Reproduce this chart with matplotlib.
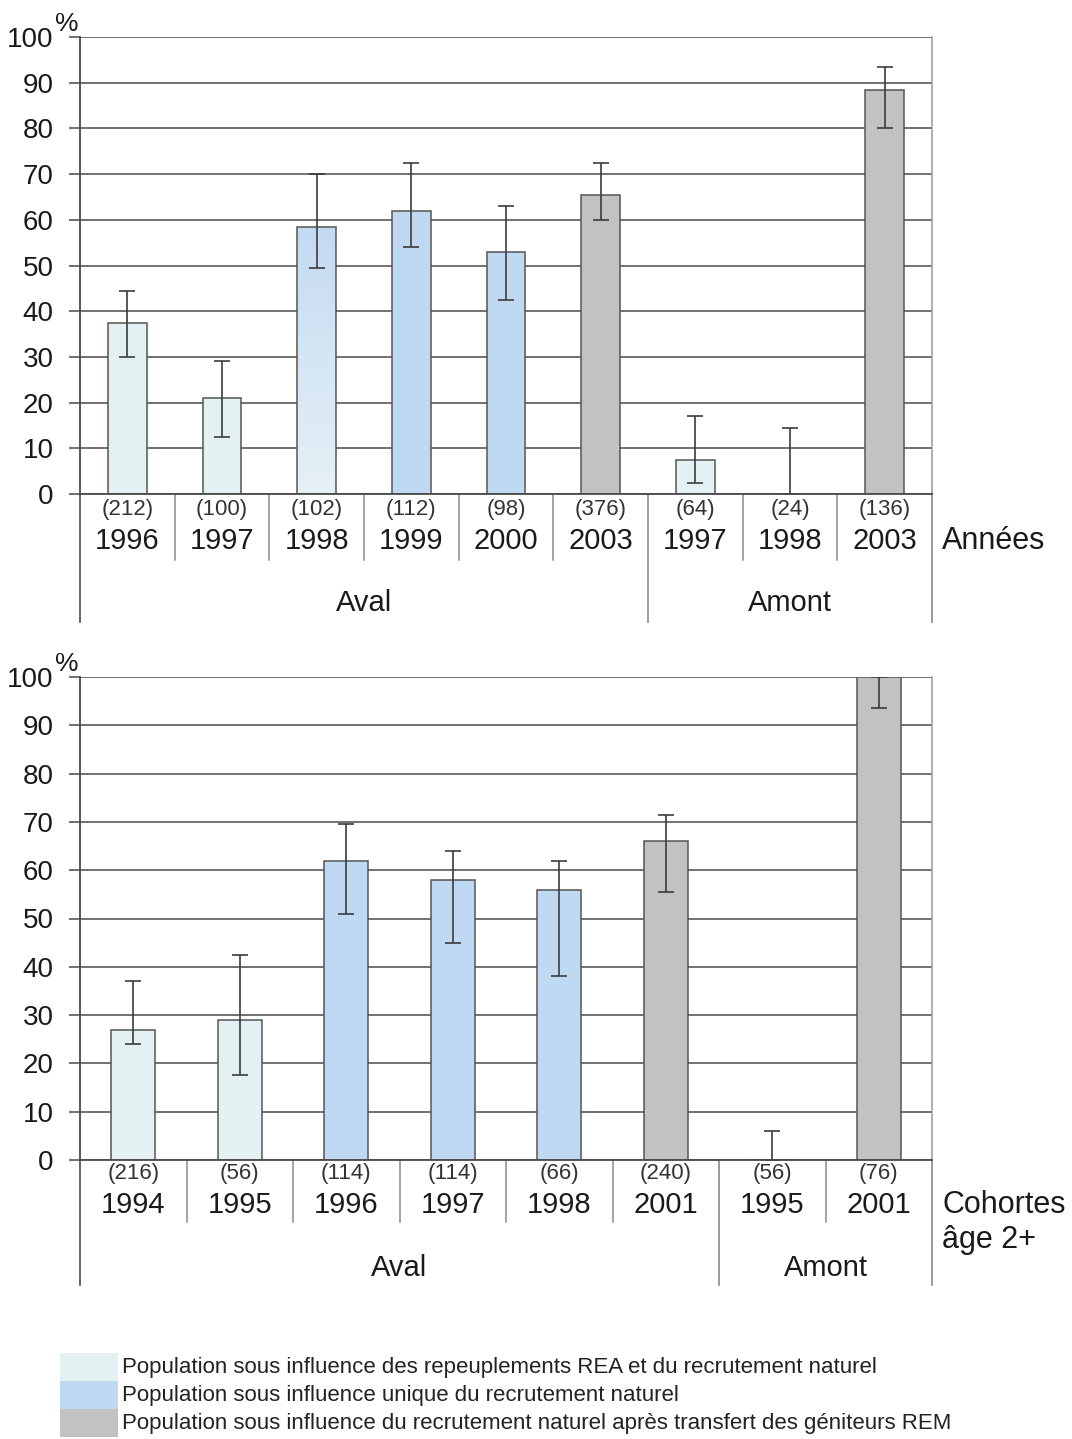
import numpy as np
import matplotlib.pyplot as plt
from matplotlib.patches import Rectangle
from matplotlib.colors import LinearSegmentedColormap
from matplotlib.transforms import blended_transform_factory

plt.rcParams['font.family'] = ['Liberation Sans', 'DejaVu Sans']

# top panel : années
top_years = ['1996', '1997', '1998', '1999', '2000', '2003', '1997', '1998', '2003']
top_n = ['(212)', '(100)', '(102)', '(112)', '(98)', '(376)', '(64)', '(24)', '(136)']
top_vals = [37.5, 21, 58.5, 62, 53, 65.5, 7.5, 0, 88.5]
top_low = [30, 12.5, 49.5, 54, 42.5, 60, 2.5, 0, 80]
top_high = [44.5, 29, 70, 72.5, 63, 72.5, 17, 14.5, 93.5]
top_type = ['rea', 'rea', 'mix', 'nat', 'nat', 'rem', 'rea', 'rea', 'rem']
top_groups = [('Aval', 6), ('Amont', 3)]

# bottom panel : cohortes âge 2+
bot_years = ['1994', '1995', '1996', '1997', '1998', '2001', '1995', '2001']
bot_n = ['(216)', '(56)', '(114)', '(114)', '(66)', '(240)', '(56)', '(76)']
bot_vals = [27, 29, 62, 58, 56, 66, 0, 100]
bot_low = [24, 17.5, 51, 45, 38, 55.5, 0, 93.5]
bot_high = [37, 42.5, 69.5, 64, 62, 71.5, 6, 100]
bot_type = ['rea', 'rea', 'nat', 'nat', 'nat', 'rem', 'rea', 'rem']
bot_groups = [('Aval', 6), ('Amont', 2)]

legend_labels = [
    'Population sous influence des repeuplements REA et du recrutement naturel',
    'Population sous influence unique du recrutement naturel',
    'Population sous influence du recrutement naturel après transfert des géniteurs REM',
]
colors = {'rea': '#e3f1f2', 'nat': '#c0d9f3', 'rem': '#c2c2c2'}
mix_cmap = LinearSegmentedColormap.from_list('mix', ['#e6f1f6', '#c4daf2'])

W, H = 1072, 1439
fig = plt.figure(figsize=(W / 100, H / 100), dpi=100)
fig.patch.set_facecolor('white')


def px_axes(l, t, r, b):
    return fig.add_axes([l / W, 1 - b / H, (r - l) / W, (b - t) / H])


def draw_panel(ax, ax_h, years, ns, vals, low, high, types, groups,
               dy_n, dy_year, dy_group, short_len, long_len, side_text):
    n = len(years)
    x = np.arange(n)
    vals = np.array(vals, dtype=float)
    low = np.array(low, dtype=float)
    high = np.array(high, dtype=float)

    ax.set_axisbelow(True)
    ax.yaxis.grid(True, color='#4a4a4a', linewidth=1.1)
    bars = ax.bar(x, vals, width=0.41,
                  color=[colors.get(t, 'none') for t in types],
                  edgecolor='#555555', linewidth=1.1, zorder=2)
    for b, t in zip(bars, types):
        if t == 'mix':
            b.set_facecolor('none')
            grad = np.linspace(0, 1, 256).reshape(-1, 1)
            im = ax.imshow(grad, extent=[b.get_x(), b.get_x() + b.get_width(), 0, b.get_height()],
                           origin='lower', aspect='auto', cmap=mix_cmap, zorder=1.9)
            im.set_clip_path(b)
    ax.errorbar(x, vals, yerr=[vals - low, high - vals], fmt='none',
                ecolor='#3c3c3c', elinewidth=1.2, capsize=6, capthick=1.2, zorder=3)

    ax.set_xlim(-0.5, n - 0.5)
    ax.set_ylim(0, 100)
    ax.set_yticks(range(0, 101, 10))
    ax.set_yticklabels([str(v) for v in range(0, 101, 10)], fontsize=20, color='#1a1a1a')
    ax.tick_params(axis='y', length=8, width=1.1, color='#4a4a4a', pad=11)
    ax.set_xticks([])
    for s in ['top', 'bottom']:
        ax.spines[s].set_visible(False)
    ax.spines['left'].set_color('#4a4a4a')
    ax.spines['left'].set_linewidth(1.3)
    ax.spines['right'].set_color('#9a9a9a')
    ax.spines['right'].set_linewidth(1.1)
    ax.axhline(0, color='#4a4a4a', linewidth=1.3, zorder=4, clip_on=False)

    trans = blended_transform_factory(ax.transData, ax.transAxes)
    for i in range(n):
        ax.text(x[i], -dy_n / ax_h, ns[i], transform=trans, ha='center', va='center',
                fontsize=16, color='#333333')
        ax.text(x[i], -dy_year / ax_h, years[i], transform=trans, ha='center', va='center',
                fontsize=21, color='#1a1a1a')

    # separators between categories and between groups
    bounds = []
    start = 0
    for name, cnt in groups:
        bounds.append(start)
        mid = start + (cnt - 1) / 2
        ax.text(mid, -dy_group / ax_h, name, transform=trans, ha='center', va='center',
                fontsize=21, color='#1a1a1a')
        start += cnt
    bounds.append(start)
    for k in range(1, n):
        if k not in bounds:
            ax.plot([k - 0.5, k - 0.5], [0, -short_len / ax_h], transform=trans,
                    color='#8a8a8a', linewidth=1.1, clip_on=False)
    for k in bounds:
        col = '#4a4a4a' if k == 0 else '#8a8a8a'
        ax.plot([k - 0.5, k - 0.5], [0, -long_len / ax_h], transform=trans,
                color=col, linewidth=1.2, clip_on=False)

    ax.text(-13 / 852, 1 + 1 / ax_h, '%', transform=ax.transAxes, fontsize=19, color='#1a1a1a',
            ha='center', va='bottom')
    for j, line in enumerate(side_text):
        ax.text(1.012, -(dy_year + 35 * j) / ax_h, line, transform=ax.transAxes,
                ha='left', va='center', fontsize=22, color='#1a1a1a')


ax1 = px_axes(80, 37, 932, 494)
draw_panel(ax1, 457, top_years, top_n, top_vals, top_low, top_high, top_type, top_groups,
           15, 47, 109, 66, 128, ['Années'])

ax2 = px_axes(80, 677, 932, 1160)
draw_panel(ax2, 483, bot_years, bot_n, bot_vals, bot_low, bot_high, bot_type, bot_groups,
           14, 45, 108, 62, 125, ['Cohortes', 'âge 2+'])

# legend
lax = px_axes(60, 1353, 1000, 1437)
lax.set_xlim(0, 940)
lax.set_ylim(84, 0)
lax.axis('off')
for j, (lab, key) in enumerate(zip(legend_labels, ['rea', 'nat', 'rem'])):
    lax.add_patch(Rectangle((0, 28 * j), 58, 28, facecolor=colors[key], edgecolor='none'))
    lax.text(62, 28 * j + 14, lab, ha='left', va='center', fontsize=16, color='#222222')

fig.savefig('out.png', dpi=100, facecolor='white')
